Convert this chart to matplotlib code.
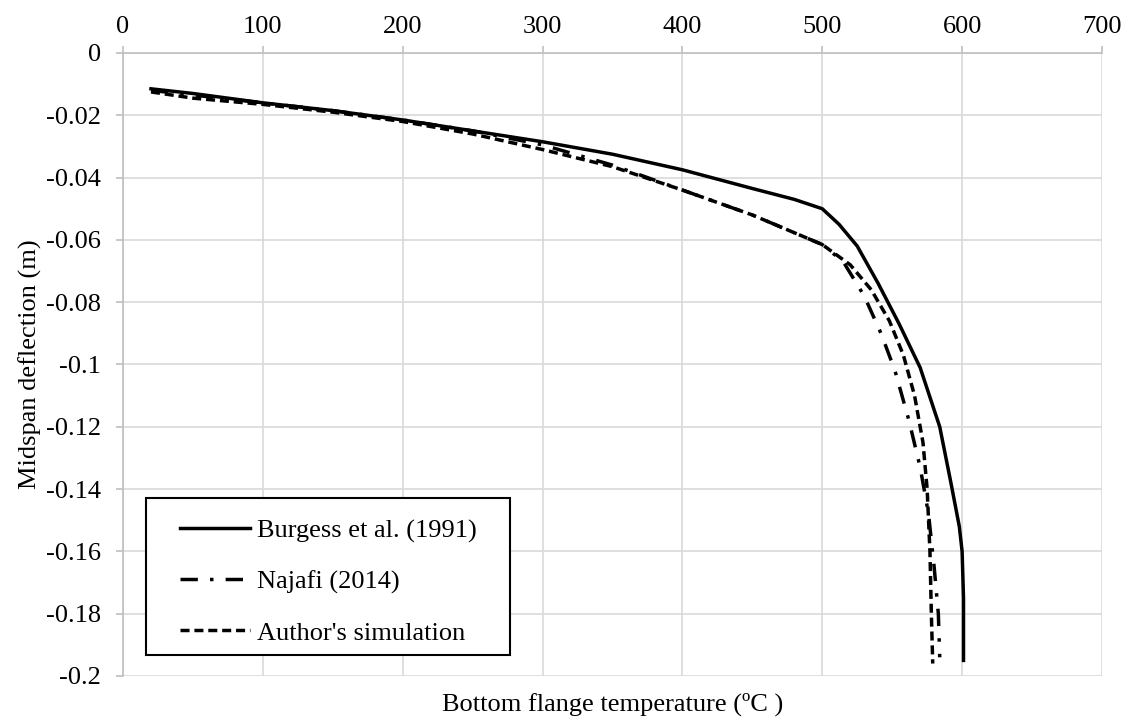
import matplotlib.pyplot as plt
from matplotlib.patches import Rectangle
from matplotlib.ticker import FuncFormatter

plt.rcParams["font.family"] = ["Liberation Serif", "DejaVu Serif"]

# Burgess et al. (1991)
temp_burgess = [20, 50, 100, 150, 200, 250, 300, 350, 400, 450, 480, 500,
                512, 525, 540, 555, 570, 584, 592, 598, 600, 601, 601]
defl_burgess = [-0.0115, -0.013, -0.016, -0.0185, -0.0215, -0.025, -0.0285,
                -0.0325, -0.0375, -0.0435, -0.047, -0.050, -0.055, -0.062,
                -0.074, -0.087, -0.101, -0.120, -0.138, -0.152, -0.160,
                -0.175, -0.195]

# Najafi (2014)
temp_najafi = [20, 50, 100, 150, 200, 250, 300, 350, 400, 450, 500, 515,
               530, 542, 552, 562, 570, 576, 580, 583, 584]
defl_najafi = [-0.012, -0.0135, -0.016, -0.0185, -0.0215, -0.025, -0.0295,
               -0.036, -0.044, -0.052, -0.0615, -0.067, -0.078, -0.090,
               -0.102, -0.118, -0.133, -0.148, -0.165, -0.180, -0.194]

# Author's simulation
temp_author = [20, 50, 100, 150, 200, 250, 300, 350, 400, 450, 500, 520,
               535, 548, 558, 566, 572, 575, 577, 578, 579]
defl_author = [-0.0125, -0.0145, -0.0165, -0.019, -0.022, -0.026, -0.031,
               -0.0365, -0.044, -0.052, -0.0615, -0.068, -0.076, -0.086,
               -0.097, -0.110, -0.125, -0.140, -0.160, -0.180, -0.196]

x_ticks = list(range(0, 701, 100))
y_ticks = [0, -0.02, -0.04, -0.06, -0.08, -0.1, -0.12, -0.14, -0.16, -0.18, -0.2]

fs = 19

fig = plt.figure(figsize=(11.33, 7.18), dpi=100)
ax = fig.add_axes([0.1086, 0.0585, 0.8640, 0.8677])

ax.plot(temp_burgess, defl_burgess, color="black", lw=2.5,
        label="Burgess et al. (1991)")
ax.plot(temp_najafi, defl_najafi, color="black", lw=2.5,
        linestyle=(0, (5, 3.5, 1, 3.5)), label="Najafi (2014)")
ax.plot(temp_author, defl_author, color="black", lw=2.5,
        linestyle=(0, (2.6, 1.4)), label="Author's simulation")

ax.set_xlim(0, 700)
ax.set_ylim(-0.2, 0)
ax.set_xticks(x_ticks)
ax.set_yticks(y_ticks)
ax.xaxis.tick_top()
ax.yaxis.set_major_formatter(FuncFormatter(lambda v, p: f"{v:g}".replace("\u2212", "-")))
ax.grid(True, color="#d9d9d9", lw=1.2)
ax.set_axisbelow(True)

for side in ["right", "bottom"]:
    ax.spines[side].set_visible(False)
for side in ["top", "left"]:
    ax.spines[side].set_color("#bfbfbf")
    ax.spines[side].set_linewidth(1.2)
ax.tick_params(axis="both", colors="#bfbfbf", labelcolor="black",
               labelsize=fs, length=5, width=1.2)
ax.tick_params(axis="x", pad=6)
ax.tick_params(axis="y", pad=11)

ax.set_xlabel("Bottom flange temperature (ºC )", fontsize=fs, labelpad=12)
ax.set_ylabel("Midspan deflection (m)", fontsize=fs, labelpad=3)

# legend entries without frame, box drawn separately (wider side padding)
leg = ax.legend(loc="upper left", bbox_to_anchor=(0.0582, 0.252),
                borderaxespad=0, borderpad=0, fontsize=fs, frameon=False,
                handlelength=2.65, handletextpad=0.25, labelspacing=1.03)
ax.add_patch(Rectangle((0.0235, 0.034), 0.372, 0.252, transform=ax.transAxes,
                       facecolor="white", edgecolor="black", lw=1.5,
                       zorder=4.5))

fig.savefig("out.png", dpi=100)
